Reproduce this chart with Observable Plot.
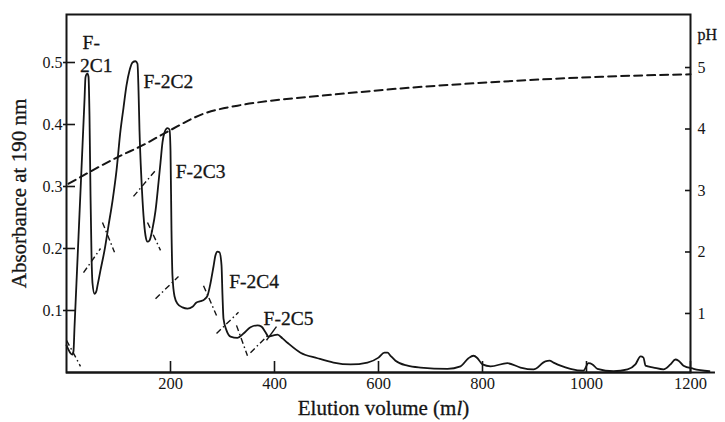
<!DOCTYPE html>
<html><head><meta charset="utf-8">
<script src="https://cdn.jsdelivr.net/npm/d3@7"></script>
<script src="https://cdn.jsdelivr.net/npm/@observablehq/plot@0.6"></script>
<style>body{margin:0;background:#fff} #chart svg{display:block}</style>
</head><body><div id="chart"></div>
<script>
// Elution profile (absorbance at 190 nm)
const volume = [0,3.8,7.7,11.5,13.5,15.4,19.2,23.1,26.9,30.8,34.6,36.5,38.5,40.4,42.3,44.2,46.2,48.1,50,53.8,57.7,59.6,65.4,73.1,80.8,88.5,96.2,103.8,109.6,115.4,121.2,126.9,132.7,136.5,138.5,140.4,144.2,148.1,151.9,155.8,159.6,165.4,171.2,176.9,180.8,184.6,188.5,194.2,198.1,200,201.9,203.8,207.7,213.5,223.1,232.7,242.3,250,257.7,265.4,271.2,276.9,282.7,286.5,290.4,294.2,298.1,300,301.9,307.7,315.4,328.8,340.4,353.8,367.3,375,382.7,388.5,398.1,405.8,415.4,425,450,482.7,513.5,546.2,578.8,600,611.5,617.3,623.1,632.7,655.8,680.8,732.7,757.7,773,782.7,790.4,800,815.4,848,873,898,921,929,936.5,950,969,994,1004,1011.5,1021,1052,1079,1094,1104,1109.6,1113.5,1129,1148,1161.5,1171,1177,1186.5,1206,1236.5];
const absorbance = [0.044,0.037,0.031,0.029,0.035,0.073,0.145,0.219,0.292,0.366,0.439,0.476,0.481,0.482,0.477,0.415,0.285,0.189,0.144,0.127,0.132,0.140,0.165,0.197,0.237,0.277,0.326,0.390,0.427,0.463,0.487,0.500,0.502,0.498,0.455,0.390,0.310,0.253,0.221,0.211,0.213,0.232,0.261,0.306,0.339,0.371,0.387,0.394,0.392,0.358,0.229,0.156,0.123,0.111,0.105,0.103,0.106,0.113,0.115,0.118,0.124,0.144,0.171,0.189,0.195,0.194,0.173,0.124,0.087,0.068,0.058,0.056,0.063,0.073,0.076,0.074,0.065,0.058,0.060,0.061,0.055,0.048,0.032,0.023,0.016,0.013,0.016,0.024,0.032,0.032,0.027,0.019,0.011,0.008,0.006,0.010,0.023,0.027,0.023,0.013,0.010,0.015,0.008,0.005,0.018,0.019,0.016,0.011,0.006,0.003,0.015,0.013,0.006,0.002,0.005,0.013,0.026,0.024,0.011,0.008,0.005,0.013,0.021,0.019,0.011,0.006,0.002];

// pH gradient (dashed)
const phVolume = [4,105,143,195,264,329,393,489,643,836,1029,1200];
const phValues = [3.11,3.57,3.72,3.96,4.25,4.38,4.46,4.54,4.66,4.77,4.85,4.89];

// fraction cut marks (dash-dot): start / end
const cutVolumeA = [0,32.7,69.2,128.8,155.8,171.2,263.5,288.5,326.9,353.8];
const cutAbsA    = [0.052,0.161,0.242,0.284,0.242,0.119,0.140,0.063,0.076,0.032];
const cutVolumeB = [26.9,65.4,92.3,171.2,180.8,215.4,288.5,330.8,348,388.5];
const cutAbsB    = [0.010,0.200,0.194,0.326,0.197,0.155,0.092,0.097,0.027,0.061];
const pointerVolume = [384.6,403.8];
const pointerAbs = [0.052,0.074];

// peak labels
const peakLabels = ["F-","2C1","F-2C2","F-2C3","F-2C4","F-2C5"];
const peakLabelVolume = [31,26,148,210,313,379];
const peakLabelAbs = [0.532,0.495,0.469,0.324,0.147,0.087];

// ticks
const absTicks = [0.1,0.2,0.3,0.4,0.5];
const volumeTicks = [200,400,600,800,1000,1200];
const phTicks = [1,2,3,4,5];
const xAxisEnd = 1248;

// right pH axis alignment relative to absorbance axis
const phScale = d3.scaleLinear().domain([1,5]).range([0.0952,0.4919]);

const profile = volume.map((v,i)=>({v, a:absorbance[i]}));
const phLine = phVolume.map((v,i)=>({v, a:phScale(phValues[i])}));
const cuts = cutVolumeA.map((v,i)=>({x1:v,y1:cutAbsA[i],x2:cutVolumeB[i],y2:cutAbsB[i]}));
const pointer = [{x1:pointerVolume[0],y1:pointerAbs[0],x2:pointerVolume[1],y2:pointerAbs[1]}];
const labels = peakLabels.map((t,i)=>({t, v:peakLabelVolume[i], a:peakLabelAbs[i]}));
const ink = "#151515";

const chart = Plot.plot({
  width:725, height:422,
  marginLeft:66, marginRight:35, marginTop:14, marginBottom:50,
  x:{domain:[0,1200]},
  y:{domain:[0,358/620]},
  style:{fontFamily:"'Liberation Serif', 'DejaVu Serif', serif", fontSize:"16px", background:"#fff", color:ink},
  marks:[
    Plot.frame({stroke:ink, strokeWidth:2}),
    Plot.ruleY([0], {x1:0, x2:xAxisEnd, stroke:ink, strokeWidth:2}),
    Plot.axisX(volumeTicks, {tickSize:11, dy:-11, tickFormat:()=>"", label:null, stroke:ink, strokeWidth:1.6}),
    Plot.axisX(volumeTicks, {tickSize:0, tickPadding:5, tickFormat:d=>String(d), label:null, fontSize:16.5, fill:ink, stroke:ink, strokeWidth:0.3}),
    Plot.axisY(absTicks, {anchor:"left", tickSize:12, dx:9, tickFormat:()=>"", label:null, stroke:ink, strokeWidth:1.6}),
    Plot.axisY(absTicks, {anchor:"left", tickSize:3, tickPadding:1, tickFormat:d=>d.toFixed(1), label:null, fontSize:16, fill:ink, stroke:ink, strokeWidth:0.3}),
    Plot.axisY(phTicks.map(phScale), {anchor:"right", tickSize:6, dx:-6, tickFormat:()=>"", label:null, stroke:ink, strokeWidth:1.6}),
    Plot.axisY(phTicks.map(phScale), {anchor:"right", tickSize:0, tickPadding:7, tickFormat:d=>String(Math.round(phScale.invert(d))), label:null, fontSize:16, fill:ink, stroke:ink, strokeWidth:0.3}),
    Plot.line(phLine, {x:"v", y:"a", curve:"monotone-x", stroke:ink, strokeWidth:2, strokeDasharray:"8,5"}),
    Plot.link(cuts, {x1:"x1", y1:"y1", x2:"x2", y2:"y2", stroke:ink, strokeWidth:1.4, strokeDasharray:"6,3,1.5,3"}),
    Plot.link(pointer, {x1:"x1", y1:"y1", x2:"x2", y2:"y2", stroke:ink, strokeWidth:1.4}),
    Plot.line(profile, {x:"v", y:"a", curve:"monotone-x", stroke:ink, strokeWidth:1.8}),
    Plot.text(labels, {x:"v", y:"a", text:"t", textAnchor:"start", fontSize:19.5, fill:ink, stroke:ink, strokeWidth:0.3}),
    Plot.text(["pH"], {frameAnchor:"top-right", textAnchor:"start", lineAnchor:"middle", dx:7, dy:20, fontSize:16, fill:ink, stroke:ink, strokeWidth:0.3}),
    Plot.text(["Absorbance at 190 nm"], {frameAnchor:"left", textAnchor:"middle", lineAnchor:"middle", rotate:-90, dx:-47, fontSize:21, fill:ink, stroke:ink, strokeWidth:0.3}),
    Plot.text(["Elution volume (ml)"], {frameAnchor:"bottom", textAnchor:"middle", lineAnchor:"middle", dy:36, dx:5, fontSize:21, fill:ink, stroke:ink, strokeWidth:0.3})
  ]
});
document.getElementById("chart").appendChild(chart);
// italic "l" in the unit
chart.querySelectorAll("text").forEach(t => {
  if (t.textContent === "Elution volume (ml)") {
    t.innerHTML = 'Elution volume (m<tspan font-style="italic">l</tspan>)';
  }
});
</script></body></html>
